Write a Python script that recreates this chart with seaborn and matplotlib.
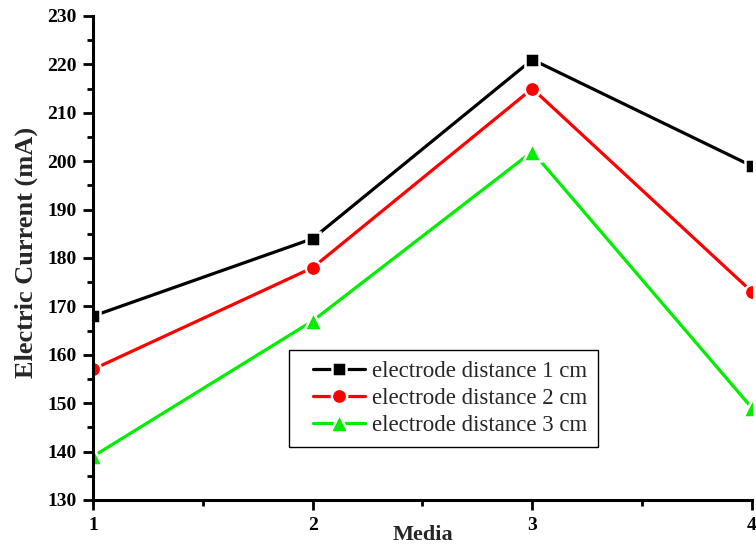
import matplotlib
matplotlib.use("Agg")
import matplotlib.pyplot as plt
from matplotlib.ticker import MultipleLocator
from matplotlib.legend_handler import HandlerLine2D
import seaborn as sns
import pandas as pd

# ── Data ──────────────────────────────────────────────────────────────────────
media = [1, 2, 3, 4]
dist_1cm = [168, 184, 221, 199]
dist_2cm = [157, 178, 215, 173]
dist_3cm = [139, 167, 202, 149]
labels = ["electrode distance 1 cm", "electrode distance 2 cm",
          "electrode distance 3 cm"]

df = pd.DataFrame({
    "Media": media * 3,
    "Current": dist_1cm + dist_2cm + dist_3cm,
    "Series": [labels[0]] * 4 + [labels[1]] * 4 + [labels[2]] * 4,
})

sns.set_style("ticks")
plt.rcParams["font.family"] = ["Liberation Serif", "DejaVu Serif"]

colors = ["#000000", "#ff0000", "#00ee00"]
markers = ["s", "o", "^"]
msizes = [10.5, 11, 13]

fig = plt.figure(figsize=(7.56, 5.44), dpi=100, facecolor="white")
ax = fig.add_axes([0.123, 0.0809, 0.8717, 0.8897])

for lab, col, mk, ms in zip(labels, colors, markers, msizes):
    sub = df[df["Series"] == lab]
    sns.lineplot(data=sub, x="Media", y="Current", ax=ax, color=col,
                 marker=mk, markersize=ms, markerfacecolor=col,
                 markeredgecolor="white", markeredgewidth=1.8,
                 linewidth=2.3, label=lab)

ax.set_xlim(1, 4)
ax.set_ylim(130, 230)
ax.xaxis.set_major_locator(MultipleLocator(1))
ax.xaxis.set_minor_locator(MultipleLocator(0.5))
ax.yaxis.set_major_locator(MultipleLocator(10))
ax.yaxis.set_minor_locator(MultipleLocator(5))

for s in ["top", "right"]:
    ax.spines[s].set_visible(False)
for s in ["left", "bottom"]:
    ax.spines[s].set_linewidth(2.2)
    ax.spines[s].set_color("black")

ax.tick_params(which="major", direction="out", length=7, width=2,
               labelsize=14, colors="black", pad=5)
ax.tick_params(which="minor", direction="out", length=4, width=2,
               colors="black")
for t in ax.get_xticklabels() + ax.get_yticklabels():
    t.set_fontweight("bold")

ax.set_xlabel("Media", fontsize=16, fontweight="bold")
ax.set_ylabel("Electric Current (mA)", fontsize=19, fontweight="bold")
ax.xaxis.set_label_coords(0.5, -0.052)
ax.yaxis.set_label_coords(-0.084, 0.512)

handles, _ = ax.get_legend_handles_labels()
leg = ax.legend(handles, labels, loc="lower left",
                bbox_to_anchor=(0.297, 0.11),
                fontsize=16.5, frameon=True, fancybox=False, framealpha=1,
                handlelength=2.9, handletextpad=0.3, borderpad=0.45,
                borderaxespad=0, labelspacing=0.28,
                handler_map={h: HandlerLine2D(xpad=0.6) for h in handles})
leg.get_frame().set_edgecolor("black")
leg.get_frame().set_linewidth(1)

fig.savefig("out.png", dpi=100, facecolor="white")
